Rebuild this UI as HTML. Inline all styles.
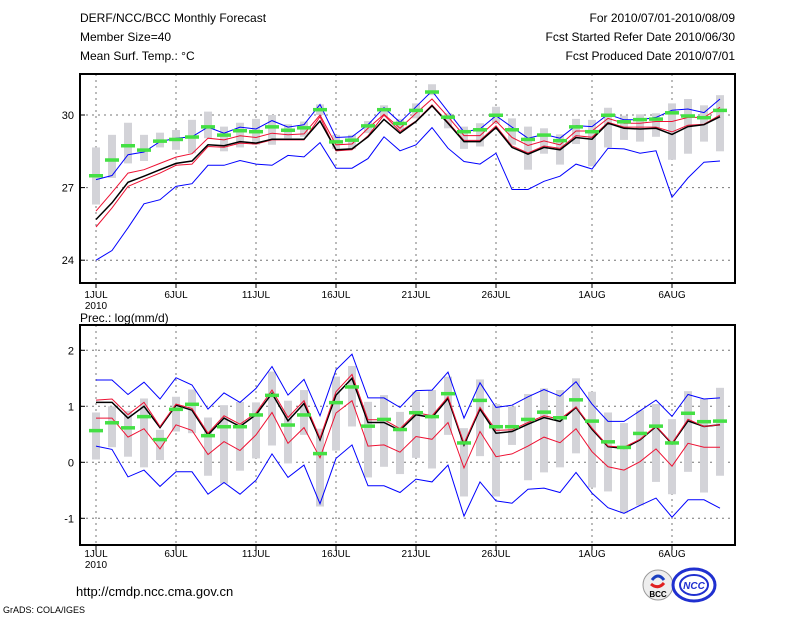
<!DOCTYPE html>
<html><head><meta charset="utf-8"><style>
html,body{margin:0;padding:0;background:#fff;}
svg{display:block;font-family:"Liberation Sans",sans-serif;}
</style></head><body>
<svg id="chart" width="800" height="618" viewBox="0 0 800 618">
<g font-size="12" fill="#000">
<text x="80" y="22">DERF/NCC/BCC Monthly Forecast</text>
<text x="80" y="41">Member Size=40</text>
<text x="80" y="60">Mean Surf. Temp.: °C</text>
<text x="735" y="22" text-anchor="end">For 2010/07/01-2010/08/09</text>
<text x="735" y="41" text-anchor="end">Fcst Started Refer Date 2010/06/30</text>
<text x="735" y="60" text-anchor="end">Fcst Produced Date 2010/07/01</text>
<text x="80" y="322">Prec.: log(mm/d)</text>
<text x="76" y="596" font-size="13">http://cmdp.ncc.cma.gov.cn</text>
<text x="3" y="613" font-size="9">GrADS: COLA/IGES</text>
</g>
<g>
<circle cx="658" cy="585" r="15" fill="#eee" stroke="#999"/>
<path d="M652 580 q6 -8 12 0" stroke="#1a3fc0" stroke-width="3" fill="none"/>
<path d="M651 584 q7 6 13 -1" stroke="#e02020" stroke-width="3" fill="none"/>
<text x="658" y="597" font-size="8" font-weight="bold" text-anchor="middle" fill="#000">BCC</text>
<ellipse cx="694" cy="585" rx="21" ry="16" fill="#fff" stroke="#2030d0" stroke-width="3"/>
<ellipse cx="694" cy="585" rx="14" ry="10" fill="none" stroke="#2030d0" stroke-width="2"/>
<text x="694" y="589" font-size="10" font-style="italic" font-weight="bold" text-anchor="middle" fill="#2030d0">NCC</text>
</g>
<g id="top"></g>
<g id="bot"></g>
</svg>
<script>
const dayLabels = ["1JUL","6JUL","11JUL","16JUL","21JUL","26JUL","1AUG","6AUG"];
const dayLabelIdx = [0,5,10,15,20,25,31,36];
const tempTicks = [24,27,30];
const precTicks = [-1,0,1,2];
const tBlueHi = [27.33,27.5,28.36,28.47,28.9,29.04,29.1,29.5,29.25,29.5,29.42,29.77,29.5,29.6,30.44,29.07,29.1,29.6,30.3,29.7,30.34,30.99,30.14,29.3,29.42,29.97,29.5,29.04,29.2,29.04,29.56,29.52,30.03,29.8,29.8,29.9,30.2,30.25,30.1,30.66];
const tRedHi = [26.03,26.8,27.6,27.74,28.0,28.26,28.4,29.04,28.97,29.14,29.07,29.25,29.18,29.22,30.0,28.77,28.8,29.45,30.03,29.45,30.07,30.66,29.93,29.15,29.15,29.75,29.07,28.74,28.93,28.77,29.34,29.34,29.86,29.66,29.66,29.73,29.73,29.9,29.9,30.32];
const tMean = [25.68,26.37,27.22,27.47,27.74,28.0,28.1,28.77,28.73,28.9,28.84,29.0,29.0,29.0,29.75,28.56,28.6,29.1,29.82,29.25,29.73,30.38,29.66,28.9,28.9,29.48,28.66,28.38,28.66,28.56,29.07,29.0,29.66,29.45,29.42,29.45,29.2,29.52,29.6,29.93];
const tRedLo = [25.37,26.16,27.05,27.33,27.6,27.92,27.97,28.7,28.67,28.84,28.8,28.97,28.97,28.97,29.93,28.52,28.56,29.14,30.0,29.32,29.75,30.42,29.7,28.95,28.95,29.55,28.72,28.43,28.72,28.62,29.15,29.08,29.7,29.5,29.5,29.5,29.3,29.58,29.62,30.0];
const tBlueLo = [24.0,24.4,25.34,26.33,26.5,27.05,27.16,27.92,27.92,28.12,27.97,27.92,28.33,28.27,28.86,27.8,27.8,28.2,29.1,28.52,28.77,29.48,28.63,28.08,27.97,28.42,26.92,26.92,27.26,27.47,27.97,27.77,28.63,28.6,28.42,28.52,26.6,27.4,28.05,28.1];
const tObs = [27.5,28.15,28.74,28.56,28.93,29.0,29.1,29.52,29.18,29.36,29.32,29.52,29.38,29.48,30.23,28.9,28.97,29.56,30.23,29.66,30.2,30.96,29.92,29.32,29.4,30.0,29.4,29.0,29.18,28.95,29.52,29.32,30.0,29.73,29.82,29.84,30.1,29.97,29.9,30.2];
const tBoxHi = [28.66,29.18,29.68,29.18,29.27,29.38,29.8,30.14,29.52,29.68,29.84,30.0,29.62,29.73,30.44,29.18,29.18,29.75,30.4,29.84,30.48,31.27,30.07,29.52,29.66,30.34,29.86,29.52,29.45,29.2,29.84,29.8,30.3,29.97,30.03,30.07,30.48,30.66,30.4,30.82];
const tBoxLo = [26.3,27.4,28.0,28.1,28.66,28.56,28.42,29.04,28.5,28.66,28.77,28.77,29.04,29.1,30.0,28.6,28.6,29.25,29.93,29.38,29.86,30.82,29.45,28.6,28.7,29.66,28.77,27.74,28.4,27.95,28.8,27.88,28.66,28.97,28.9,29.1,28.15,28.4,28.9,28.5];
const pBlueHi = [1.47,1.47,1.21,1.43,1.13,1.51,1.38,0.95,1.24,1.07,1.32,1.71,1.2,1.48,0.83,1.65,1.93,1.15,1.15,0.98,1.28,1.29,1.61,0.79,1.42,0.98,1.02,1.17,1.3,1.18,1.44,1.04,0.73,0.73,0.92,1.11,0.82,1.21,1.13,1.15];
const pRedHi = [1.11,1.13,0.85,1.07,0.64,1.04,0.96,0.52,0.83,0.68,0.88,1.29,0.8,1.1,0.43,1.26,1.57,0.76,0.76,0.6,0.89,0.83,1.17,0.34,0.98,0.57,0.58,0.71,0.83,0.77,0.99,0.61,0.29,0.27,0.41,0.65,0.34,0.77,0.64,0.67];
const pMean = [1.07,1.07,0.79,1.0,0.62,1.02,0.93,0.49,0.79,0.64,0.85,1.23,0.74,1.05,0.4,1.2,1.5,0.71,0.71,0.57,0.85,0.8,1.14,0.31,0.95,0.52,0.55,0.68,0.8,0.73,0.98,0.59,0.28,0.25,0.4,0.64,0.33,0.74,0.64,0.67];
const pRedLo = [0.79,0.79,0.45,0.6,0.24,0.67,0.57,0.14,0.37,0.21,0.49,0.89,0.34,0.62,0.08,0.88,1.1,0.29,0.31,0.18,0.46,0.41,0.71,-0.1,0.55,0.1,0.15,0.29,0.45,0.35,0.6,0.19,-0.08,-0.14,0.01,0.24,-0.07,0.34,0.27,0.27];
const pBlueLo = [0.29,0.23,-0.26,-0.14,-0.43,-0.17,-0.17,-0.57,-0.36,-0.57,-0.32,0.15,-0.27,-0.05,-0.74,0.07,0.31,-0.42,-0.42,-0.54,-0.3,-0.35,-0.05,-0.96,-0.35,-0.69,-0.73,-0.48,-0.46,-0.54,-0.18,-0.55,-0.81,-0.91,-0.77,-0.64,-0.98,-0.67,-0.67,-0.82];
const pObs = [0.57,0.71,0.62,0.82,0.41,0.95,1.04,0.48,0.64,0.64,0.85,1.2,0.67,0.85,0.16,1.07,1.35,0.65,0.77,0.59,0.89,0.82,1.23,0.35,1.11,0.64,0.64,0.77,0.9,0.8,1.12,0.74,0.37,0.27,0.52,0.65,0.35,0.88,0.73,0.74];
const pBoxHi = [0.89,1.0,0.92,1.14,0.58,1.17,1.3,0.8,1.02,1.08,1.07,1.62,1.1,1.29,0.6,1.53,1.72,1.08,1.2,0.9,1.26,1.29,1.53,0.61,1.48,1.04,1.0,1.22,1.32,1.29,1.5,1.26,0.89,0.7,0.93,1.04,0.77,1.27,1.13,1.33];
const pBoxLo = [0.05,0.27,0.1,-0.09,0.04,0.55,0.52,-0.24,-0.38,-0.15,0.07,0.3,-0.02,0.49,-0.79,0.21,0.64,-0.27,-0.08,-0.21,0.08,-0.11,0.49,-0.61,0.11,-0.61,0.31,-0.32,-0.18,-0.09,0.16,-0.45,-0.52,-0.91,-0.77,-0.35,-0.57,-0.17,-0.54,-0.24];

const NS="http://www.w3.org/2000/svg";
function mk(parent, tag, attrs){const e=document.createElementNS(NS,tag);for(const k in attrs)e.setAttribute(k,attrs[k]);parent.appendChild(e);return e;}
const xDay = i => 96 + 16*i;

function panel(g, name, top, bottom, yScale, ticks, boxHi, boxLo, lines, obs, labelY){
  
  
  const L=80, R=735;
  // gridlines
  dayLabelIdx.forEach(i=>{
    const l=mk(g,'line',{x1:xDay(i),x2:xDay(i),y1:top,y2:bottom,stroke:'#777','stroke-dasharray':'2,4'});
    
    
  });
  ticks.forEach(v=>{
    const y=yScale(v);
    const l=mk(g,'line',{x1:L,x2:R,y1:y,y2:y,stroke:'#777','stroke-dasharray':'2,4'});
    
    
    const t=mk(g,'text',{x:L-6,y:y+4,'text-anchor':'end','font-size':'11'});
    t.textContent=v;
    
    
    mk(g,'line',{x1:L,x2:L+5,y1:y,y2:y,stroke:'#000'});
  });
  // boxes
  boxHi.forEach((h,i)=>{
    const y1=yScale(h), y2=yScale(boxLo[i]);
    const r=mk(g,'rect',{x:xDay(i)-4,y:y1,width:8,height:y2-y1,fill:'#d3d3d8'});
    
    
  });
  lines.forEach(([arr,color,lname])=>{
    const p=mk(g,'polyline',{points:arr.map((v,i)=>xDay(i)+','+yScale(v).toFixed(1)).join(' '),fill:'none',stroke:color,'stroke-width':color==='#000'?1.5:1});
    
    
  });
  obs.forEach((v,i)=>{
    const r=mk(g,'rect',{x:xDay(i)-7,y:yScale(v)-1.5,width:14,height:3.5,fill:'#44e044'});
    
    
  });
  const f=mk(g,'rect',{x:L,y:top,width:R-L,height:bottom-top,fill:'none',stroke:'#000','stroke-width':2});
  
  
  for(let i=0;i<40;i++){mk(g,'line',{x1:xDay(i),x2:xDay(i),y1:bottom,y2:bottom+(dayLabelIdx.includes(i)?5:0),stroke:'#000'});}
  dayLabels.forEach((s,k)=>{
    const t=mk(g,'text',{x:xDay(dayLabelIdx[k]),y:labelY,'text-anchor':'middle','font-size':'10'});
    t.textContent=s;
    
    
  });
  const yr=mk(g,'text',{x:96,y:labelY+11,'text-anchor':'middle','font-size':'10'});
  yr.textContent='2010';
  
  
}
const yT = v => 115 + (30 - v)*24.2;
const yP = v => 406.3 - (v - 1)*56;
panel(document.getElementById('top'),'temperature-panel',74,283,yT,tempTicks,tBoxHi,tBoxLo,
  [[tBlueHi,'#0000ff','temp-max-line'],[tBlueLo,'#0000ff','temp-min-line'],[tRedHi,'#ee1133','temp-upper-line'],[tRedLo,'#ee1133','temp-lower-line'],[tMean,'#000','temp-mean-line']],
  tObs,298);
panel(document.getElementById('bot'),'precip-panel',325,545,yP,precTicks,pBoxHi,pBoxLo,
  [[pBlueHi,'#0000ff','precip-max-line'],[pBlueLo,'#0000ff','precip-min-line'],[pRedLo,'#ee1133','precip-lower-line'],[pMean,'#000','precip-mean-line'],[pRedHi,'#ee1133','precip-upper-line']],
  pObs,557);
</script>
</body></html>
